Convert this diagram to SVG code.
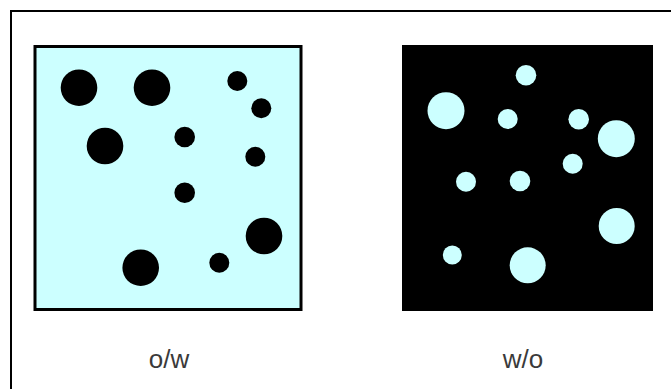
<svg xmlns="http://www.w3.org/2000/svg" width="671" height="389" viewBox="0 0 671 389">
<style>
.d{fill:#000}
.l{fill:#CCFFFF}
.t{font-family:"Liberation Sans",Arial,sans-serif;font-size:26px;fill:#3a3a3a;text-anchor:middle}
</style>
<rect width="671" height="389" fill="#fff"/>
<path d="M11,389 V11 H671" fill="none" stroke="#000" stroke-width="2"/>
<g id="with">
<rect x="35" y="46.5" width="266" height="263" fill="#CCFFFF" stroke="#000" stroke-width="3"/>
<circle class="d" cx="79" cy="87.7" r="18.3"/>
<circle class="d" cx="152" cy="87.7" r="18.3"/>
<circle class="d" cx="237.3" cy="81" r="10"/>
<circle class="d" cx="261.3" cy="108.3" r="10"/>
<circle class="d" cx="105" cy="146" r="18.3"/>
<circle class="d" cx="184.7" cy="137" r="10.3"/>
<circle class="d" cx="255.3" cy="156.7" r="10"/>
<circle class="d" cx="184.7" cy="192.7" r="10.3"/>
<circle class="d" cx="264" cy="236" r="18.3"/>
<circle class="d" cx="140.7" cy="267.7" r="18.3"/>
<circle class="d" cx="219.3" cy="262.7" r="10"/>
<text class="t" x="169" y="368">o/w</text>
</g>
<g id="without">
<rect x="402" y="45" width="251" height="266" fill="#000"/>
<circle class="l" cx="526" cy="75.3" r="10.3"/>
<circle class="l" cx="446" cy="110.7" r="18.5"/>
<circle class="l" cx="507.7" cy="119" r="10"/>
<circle class="l" cx="578.7" cy="119.3" r="10.3"/>
<circle class="l" cx="616.3" cy="138.7" r="18.5"/>
<circle class="l" cx="572.7" cy="163.7" r="10"/>
<circle class="l" cx="466" cy="181.7" r="10"/>
<circle class="l" cx="520" cy="181" r="10.3"/>
<circle class="l" cx="616.7" cy="226" r="18"/>
<circle class="l" cx="452.3" cy="255" r="9.5"/>
<circle class="l" cx="527.7" cy="265.3" r="18"/>
<text class="t" x="523" y="368">w/o</text>
</g>
</svg>
